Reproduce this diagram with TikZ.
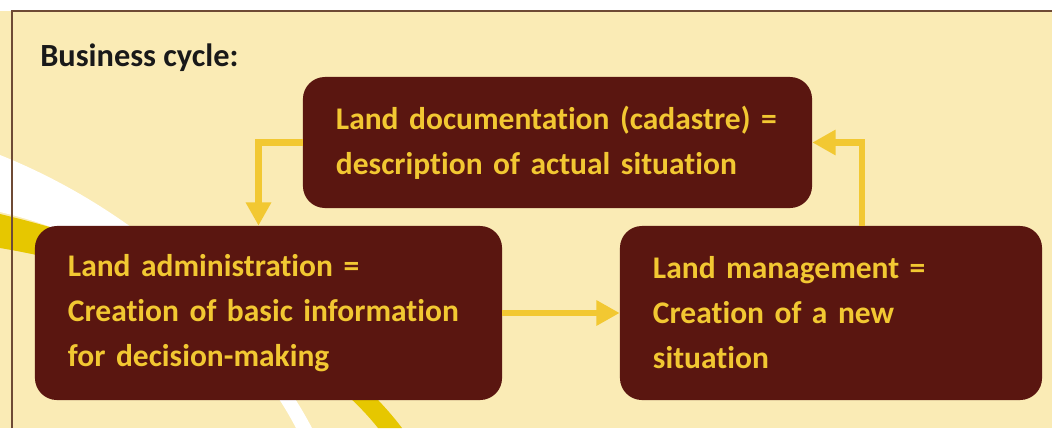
\documentclass[tikz,border=0pt]{standalone}
\usepackage{fontspec}
\setmainfont{Carlito}[Ligatures=NoCommon]
\usetikzlibrary{arrows.meta}
\definecolor{cream}{HTML}{FAEBB5}
\definecolor{boxbrown}{HTML}{5A1610}
\definecolor{gold}{HTML}{F2C832}
\definecolor{swoosh}{HTML}{E6C700}
\definecolor{framebrown}{HTML}{6E4A35}
\tikzset{
  stage/.style={fill=boxbrown, rounded corners=0.55cm, text=gold,
    font=\bfseries\fontsize{22.4}{32}\selectfont, align=left,
    inner xsep=0.825cm, inner ysep=0pt},
  flow/.style={draw=gold, line width=0.17cm, -{Triangle[length=0.58cm,width=0.6cm]}}
}
\begin{document}
\begin{tikzpicture}[x=0.025cm, y=-0.025cm]
\useasboundingbox (0,0) rectangle (1052,428);
% background and swooshes
\fill[white] (0,0) rectangle (1052,11);
\fill[cream] (0,11) rectangle (1052,428);
\fill[white] (0,155) .. controls (150,215) and (260,330) .. (312,428) -- (296,428) .. controls (240,320) and (120,240) .. (0,212) -- cycle;
\fill[swoosh] (0,214) .. controls (150,250) and (320,320) .. (402,428) -- (378,428) .. controls (300,330) and (130,270) .. (0,248) -- cycle;
\draw[framebrown, line width=0.04cm] (12,428) -- (12,11) -- (1052,11);
% title
\node[anchor=base west, inner sep=0pt, text=black!90, font=\bfseries\fontsize{23}{26}\selectfont] (title) at (40,66) {Business cycle:};
% the three stages
\node[stage, text width=11.075cm, minimum height=3.275cm] (cadastre) at (557.5,142.5)
  {Land documentation (cadastre) =\\description of actual situation};
\node[stage, text width=10.025cm, minimum height=4.35cm] (admin) at (268.5,313)
  {Land administration =\\Creation of basic information\\for decision-making};
\node[stage, text width=8.9cm, minimum height=4.35cm] (manage) at (831,313)
  {Land management =\\Creation of a new\\situation};
% cycle
\draw[flow] (cadastre.west) -| ([xshift=-0.25cm]admin.north);
\draw[flow] (admin.east) -- (manage.west);
\draw[flow] ([xshift=0.775cm]manage.north) |- (cadastre.east);
\end{tikzpicture}
\end{document}
